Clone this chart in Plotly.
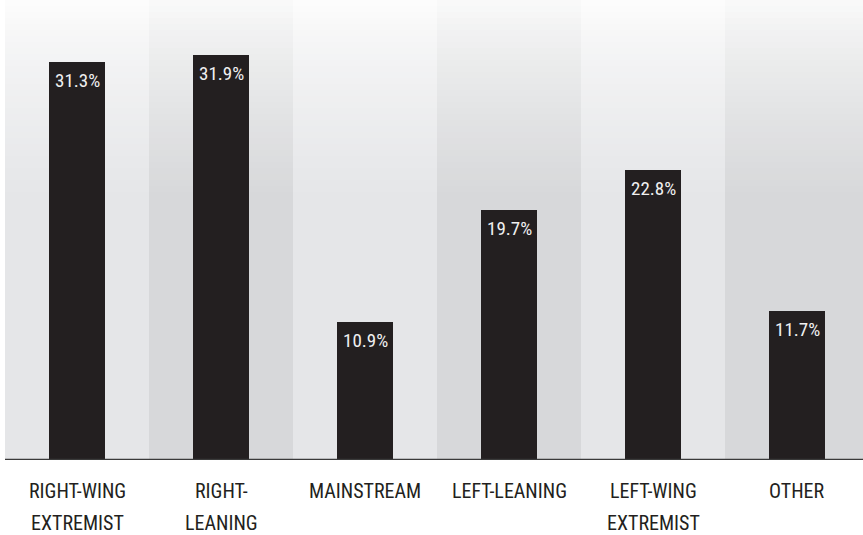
import plotly.graph_objects as go

categories = ["RIGHT-WING\nEXTREMIST", "RIGHT-\nLEANING", "MAINSTREAM", "LEFT-LEANING", "LEFT-WING\nEXTREMIST", "OTHER"]
values = [31.3, 31.9, 10.9, 19.7, 22.8, 11.7]
value_labels = [f"{v}%" for v in values]

W, H = 863, 535
ML, MR, MT, MB = 5, 0, 0, 75
plot_w = W - ML - MR
plot_h = H - MT - MB
band_px = 144.0
px_per_unit = 12.70
x_range = [-0.5, -0.5 + plot_w / band_px]
y_max = plot_h / px_per_unit

FONT = "Roboto Condensed, DejaVu Sans Condensed, sans-serif"

x = list(range(len(categories)))

fig = go.Figure()
fig.add_trace(go.Bar(
    x=x, y=values, width=56 / band_px,
    marker=dict(color="#231f20", line=dict(width=0)),
    hoverinfo="skip",
))

annotations = []
for xi, v, lab in zip(x, values, value_labels):
    annotations.append(dict(
        x=xi, y=v, xref="x", yref="y", text=lab, showarrow=False,
        xanchor="center", yanchor="top", yshift=-6, borderpad=0,
        font=dict(family=FONT, size=19, color="#f0f0f0", weight=400),
    ))

def lerp(a, b, t):
    return tuple(round(a[i] + (b[i] - a[i]) * t) for i in range(3))

light_top, light_bot = (252, 252, 252), (229, 230, 232)
dark_top, dark_bot = (249, 249, 249), (215, 216, 218)

shapes = []
step = 6
n_strips = int(plot_h / step) + 1
for i in range(len(categories)):
    dark = (i % 2 == 1)
    top_c, bot_c = (dark_top, dark_bot) if dark else (light_top, light_bot)
    for s in range(n_strips):
        d0 = s * step
        d1 = min(plot_h, (s + 1) * step)
        dm = (d0 + d1) / 2
        t = min(1.0, max(0.0, (dm - 6) / 190.0)) ** 0.75
        c = lerp(top_c, bot_c, t)
        shapes.append(dict(
            type="rect", xref="x", yref="y", layer="below",
            x0=i - 0.5, x1=i + 0.5,
            y0=y_max - d1 / px_per_unit, y1=y_max - d0 / px_per_unit,
            fillcolor=f"rgb{c}", line=dict(width=0),
        ))

shapes.append(dict(type="line", xref="paper", yref="y", x0=0, x1=1, y0=0, y1=0,
                   line=dict(color="#3a3a3a", width=2.3), layer="above"))

for i, cat in enumerate(categories):
    for j, line in enumerate(cat.split("\n")):
        annotations.append(dict(
            x=i, y=0, xref="x", yref="paper", text=line, showarrow=False,
            xanchor="center", yanchor="top", yshift=-18 - 32 * j, borderpad=0,
            font=dict(family=FONT, size=20, color="#231f20", weight=400),
        ))

fig.update_layout(
    width=W, height=H,
    margin=dict(l=ML, r=MR, t=MT, b=MB, pad=0),
    paper_bgcolor="white", plot_bgcolor="white",
    showlegend=False,
    shapes=shapes, annotations=annotations,
    bargap=0,
    xaxis=dict(range=x_range, showgrid=False, zeroline=False, showticklabels=False,
               ticks="", showline=False, fixedrange=True),
    yaxis=dict(range=[0, y_max], showgrid=False, zeroline=False, showticklabels=False,
               ticks="", showline=False, fixedrange=True),
)

fig.write_html("out.html")
